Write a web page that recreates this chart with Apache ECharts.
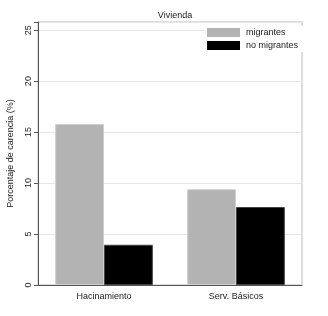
<!DOCTYPE html>
<html><head><meta charset="utf-8">
<script src="https://cdn.jsdelivr.net/npm/echarts@6/dist/echarts.min.js"></script>
<style>html,body{margin:0;padding:0;background:#fff}#c{width:328px;height:316px}</style>
</head><body><div id="c"></div>
<script>
const categories = ['Hacinamiento', 'Serv. Básicos'];
const migrantes = [15.8, 9.4];
const noMigrantes = [3.95, 7.65];
const yTicks = [0, 5, 10, 15, 20, 25];
const chart = echarts.init(document.getElementById('c'));
const font = 'Liberation Sans, Arial, sans-serif';
chart.setOption({
  animation: false,
  title: { text: 'Vivienda', left: 170, textAlign: 'center', top: 6,
    textStyle: { fontFamily: font, fontSize: 9, fontWeight: 'normal', color: '#222' } },
  grid: { left: 38, right: 26, top: 22, bottom: 31, show: true, borderColor: '#bbb', borderWidth: 1,
    outerBoundsMode: 'none', containLabel: false },
  legend: {
    data: ['migrantes', 'no migrantes'], orient: 'vertical', left: 204, top: 26,
    itemWidth: 33, itemHeight: 9, itemGap: 4, backgroundColor: '#fff', padding: [2, 6, 2, 3],
    textStyle: { fontFamily: font, fontSize: 9, color: '#222', padding: [0, 0, 0, 1] }, icon: 'rect',
    itemStyle: { borderWidth: 0 }
  },
  xAxis: { type: 'category', data: categories,
    axisLine: { lineStyle: { color: '#555' } }, axisTick: { show: false },
    axisLabel: { fontFamily: font, fontSize: 9, color: '#222', margin: 7 } },
  yAxis: { type: 'value', min: 0, max: 25.8, interval: 5,
    name: 'Porcentaje de carencia (%)', nameLocation: 'middle', nameGap: 23,
    nameTextStyle: { fontFamily: font, fontSize: 9, color: '#222' },
    axisLine: { show: true, lineStyle: { color: '#555' } },
    axisTick: { show: true, length: 4, lineStyle: { color: '#555' } },
    axisLabel: { fontFamily: font, fontSize: 9, color: '#222', rotate: 90, margin: 5,
      formatter: v => yTicks.includes(v) ? String(v) : '' },
    splitLine: { lineStyle: { color: '#e6e6e6' } } },
  series: [
    { name: 'migrantes', type: 'bar', data: migrantes, barGap: '0%', barCategoryGap: '26%',
      itemStyle: { color: '#b3b3b3', borderColor: '#cfcfcf', borderWidth: 1 } },
    { name: 'no migrantes', type: 'bar', data: noMigrantes,
      itemStyle: { color: '#000', borderColor: '#444', borderWidth: 1 } }
  ]
});
</script></body></html>
